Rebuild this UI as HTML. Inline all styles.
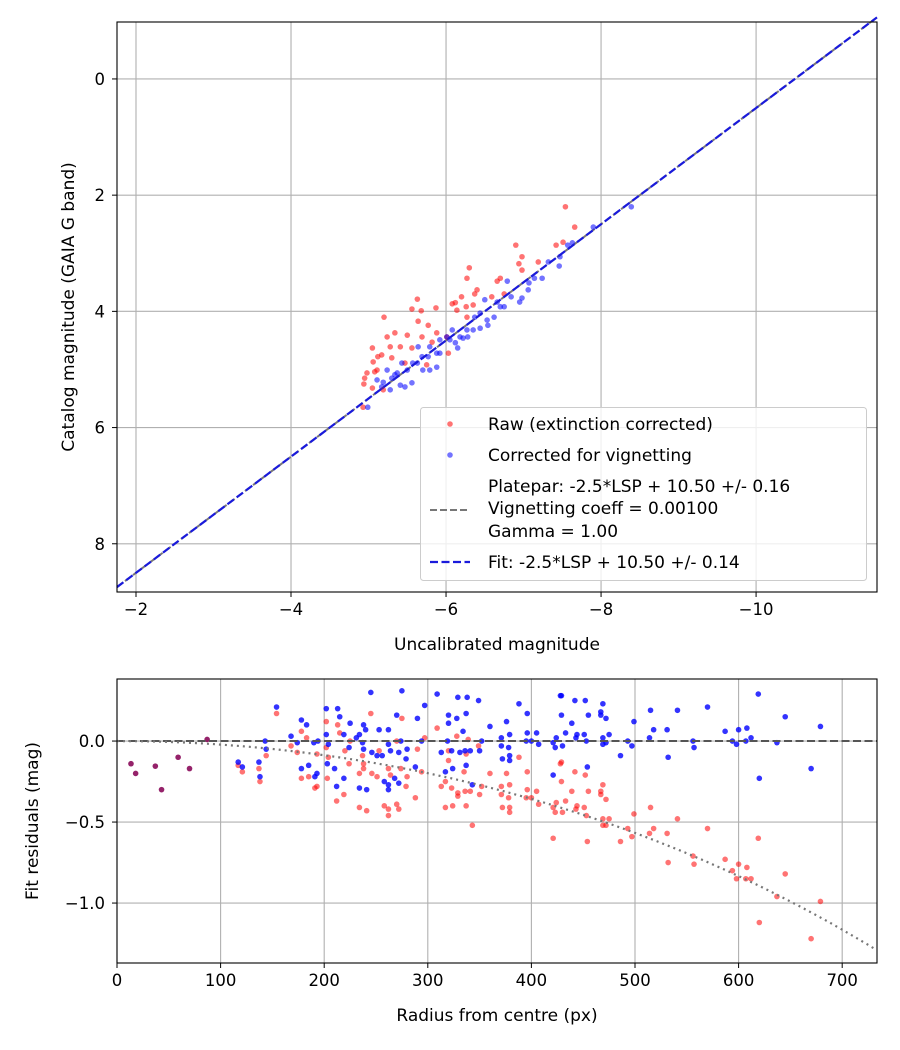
<!DOCTYPE html>
<html><head><meta charset="utf-8">
<style>
html,body{margin:0;padding:0;background:#fff;}
svg{display:block;font-family:"DejaVu Sans","Liberation Sans",sans-serif;}
</style></head>
<body>
<svg id="chart" width="900" height="1050" viewBox="0 0 900 1050" xmlns="http://www.w3.org/2000/svg">
<rect x="0" y="0" width="900" height="1050" fill="#fff"/>
<g id="topPanel"></g>
<g id="botPanel"></g>
</svg>
<script>
// ---- top panel data ----
const topXTicks = [-2, -4, -6, -8, -10];
const topYTicks = [0, 2, 4, 6, 8];
const rawM = [-7.54,-7.66,-7.51,-7.42,-6.9,-6.98,-6.94,-6.98,-7.19,-6.3,-6.27,-6.66,-6.7,-6.4,-6.37,-6.59,-6.75,-6.2,-6.08,-6.12,-6.35,-6.26,-5.63,-5.56,-5.68,-5.87,-5.2,-6.14,-6.27,-5.64,-5.77,-5.24,-5.34,-5.5,-5.69,-5.88,-5.05,-5.28,-5.41,-5.56,-5.82,-6.01,-5.12,-5.17,-5.3,-5.06,-4.98,-5.11,-4.95,-4.94,-5.05,-5.19,-4.93,-6.03,-5.75,-5.47,-5.08];
const rawCat = [2.2,2.55,2.81,2.86,2.86,3.06,3.18,3.29,3.15,3.25,3.43,3.48,3.43,3.63,3.7,3.75,3.7,3.75,3.87,3.85,3.89,3.92,3.79,3.96,3.99,3.94,4.1,3.98,4.1,4.17,4.24,4.44,4.37,4.41,4.44,4.37,4.63,4.61,4.61,4.63,4.53,4.44,4.78,4.75,4.8,4.87,5.06,5.01,5.15,5.25,5.32,5.35,5.65,4.72,4.92,4.89,5.04];
const corM = [-4.99,-7.9,-7.63,-7.57,-7.47,-7.46,-7.32,-7.24,-7.14,-7.07,-7.06,-6.98,-6.95,-6.84,-6.79,-6.75,-6.66,-6.62,-6.54,-6.5,-6.44,-6.35,-6.28,-6.22,-6.15,-6.08,-6.01,-5.92,-5.88,-5.79,-5.69,-5.64,-5.57,-5.5,-5.43,-5.37,-5.3,-5.24,-5.19,-5.28,-5.41,-5.56,-5.7,-5.79,-5.88,-6.05,-6.12,-6.37,-6.53,-6.7,-5.11,-5.17,-5.34,-5.47,-5.63,-5.77,-5.92,-6.18,-6.27,-6.44,-8.39];
const corCat = [5.65,2.55,2.82,2.86,3.06,3.22,3.15,3.43,3.43,3.51,3.63,3.77,3.84,3.75,3.48,3.92,3.84,4.1,4.24,3.8,4.29,4.32,4.44,4.46,4.63,4.32,4.44,4.49,4.72,4.61,4.78,4.61,4.89,5.01,4.89,5.06,5.15,5.01,5.22,5.35,5.27,5.23,5.01,5.01,4.96,4.49,4.54,4.1,4.15,3.92,5.18,5.3,5.09,5.3,4.89,4.78,4.72,4.44,4.32,4.03,2.2];
const fitSlope = 1.0, fitIntercept = 10.5;

// ---- bottom panel data ----
const botXTicks = [0,100,200,300,400,500,600,700];
const botYTicks = [0.0,-0.5,-1.0];
const purpleR = [13.5,18,37,43,59,70,87];
const purpleRes = [-0.14,-0.2,-0.155,-0.30,-0.10,-0.17,0.01];
const redR = [154,137,138,144,121,117,168,178,183,174,178,185,191,193,193,202,202,203,204,213,215,212,219,220,224,225,234,241,234,237,238,238,245,246,253,251,258,262,262,270,272,262,264,270,274,275,279,280,288,290,294,297,309,313,317,317,320,320,323,324,328,329,329,335,337,336,337,339,341,343,349,350,352,360,371,371,372,376,378,379,379,379,388,396,396,395,400,405,407,421,423,424,421,428,429,429,430,433,439,442,443,444,451,452,453,455,454,467,467,469,472,469,469,472,475,486,493,497,499,514,515,518,531,532,541,556,557,570,587,594,598,600,607,608,612,619,620,637,645,670,679];
const redRes = [0.17,-0.17,-0.25,-0.09,-0.19,-0.15,-0.03,0.06,0.02,-0.07,-0.23,-0.22,-0.29,-0.28,-0.08,0.12,-0.04,-0.23,-0.1,0.1,0.05,-0.37,-0.33,-0.06,-0.14,0.0,-0.41,-0.43,-0.2,-0.09,-0.14,-0.17,0.17,-0.2,-0.06,-0.22,-0.4,-0.42,-0.46,-0.39,-0.42,-0.17,-0.21,0.0,-0.17,0.14,-0.28,-0.22,-0.35,-0.05,-0.19,0.02,0.08,-0.28,-0.41,-0.25,-0.12,-0.06,-0.29,-0.4,0.03,-0.32,-0.34,-0.19,-0.08,-0.31,-0.4,0.01,-0.31,-0.52,-0.03,-0.33,-0.28,-0.2,-0.28,-0.33,-0.41,-0.2,-0.35,-0.27,-0.41,-0.44,-0.1,-0.19,-0.3,-0.35,-0.35,-0.31,-0.39,-0.41,-0.44,-0.38,-0.6,-0.14,-0.13,-0.25,-0.44,-0.37,-0.31,-0.19,-0.42,-0.4,-0.41,-0.21,-0.46,-0.31,-0.62,-0.31,-0.33,-0.27,-0.36,-0.48,-0.52,-0.52,-0.48,-0.62,-0.54,-0.59,-0.45,-0.57,-0.41,-0.54,-0.57,-0.75,-0.48,-0.71,-0.76,-0.54,-0.73,-0.8,-0.85,-0.76,-0.85,-0.78,-0.85,-0.6,-1.12,-0.96,-0.82,-1.22,-0.99];
const blueR = [117,121,137,138,143,144,154,168,178,183,174,178,185,191,193,190,194,202,215,213,202,204,203,210,212,219,219,225,224,231,234,238,240,237,238,245,246,253,251,256,262,262,264,270,272,274,275,258,262,262,234,241,268,272,279,280,288,290,294,297,309,320,320,319,313,323,317,324,328,329,337,338,334,331,336,341,337,343,349,350,352,360,371,371,372,376,378,379,379,379,388,396,396,395,400,405,407,421,423,424,421,428,429,429,430,433,439,442,443,444,451,452,453,455,454,467,467,469,472,469,469,472,475,486,493,497,499,514,515,518,531,532,541,556,557,570,587,594,598,600,607,608,612,619,620,637,645,670,679];
const blueRes = [-0.13,-0.16,-0.13,-0.22,0.0,-0.05,0.21,0.03,0.13,0.10,-0.01,-0.17,-0.15,-0.22,-0.2,-0.01,0.0,0.2,0.15,0.2,0.04,-0.02,-0.14,-0.17,-0.28,0.04,-0.23,0.11,-0.04,0.02,0.04,0.1,0.07,-0.01,-0.05,0.3,-0.07,0.07,-0.09,-0.09,0.07,-0.02,-0.06,0.16,-0.07,0.0,0.31,-0.25,-0.27,-0.3,-0.29,-0.3,-0.23,-0.26,-0.11,-0.05,-0.16,0.14,0.0,0.22,0.29,0.16,0.11,0.0,-0.07,-0.06,-0.19,-0.17,0.14,0.27,0.17,0.27,0.06,-0.07,-0.06,-0.06,-0.15,-0.27,0.25,-0.06,0.0,0.09,0.02,-0.03,-0.11,0.12,-0.04,0.04,-0.09,-0.12,0.23,0.17,0.05,0.0,0.0,0.05,-0.02,-0.01,-0.04,0.02,-0.21,0.28,0.28,0.16,-0.03,0.05,0.11,0.25,0.02,0.04,0.04,0.25,0.0,0.16,-0.16,0.18,0.16,0.23,0.14,0.02,-0.02,-0.01,0.04,-0.09,0.0,-0.03,0.12,0.02,0.19,0.07,0.07,-0.1,0.19,0.0,-0.04,0.21,0.06,0.0,-0.02,0.07,0.0,0.08,0.02,0.29,-0.23,-0.01,0.15,-0.17,0.09];
const vignCoeff = 0.001;

const NS = 'http://www.w3.org/2000/svg';
function mk(parent, tag, attrs, text){
  const e = document.createElementNS(NS, tag);
  for (const k in attrs) e.setAttribute(k, attrs[k]);
  if (text !== undefined) e.textContent = text;
  parent.appendChild(e);
  return e;
}
function fmtNeg(v, d){ const s = Math.abs(v).toFixed(d); return (v < 0 ? '\u2212' : '') + s; }

// ---------- TOP ----------
const T = {l:117, r:877, t:22, b:592};
const txMin = -1.755, txMax = -11.56, tyMin = -0.98, tyMax = 8.83;
const tx = v => T.l + (v - txMin) / (txMax - txMin) * (T.r - T.l);
const ty = v => T.t + (v - tyMin) / (tyMax - tyMin) * (T.b - T.t);
const topG = document.getElementById('topPanel');

topXTicks.forEach(v => {
  const g = mk(topG, 'line', {x1:tx(v), x2:tx(v), y1:T.t, y2:T.b, stroke:'#b0b0b0', 'stroke-width':1.1});
  
  
  const tk = mk(topG, 'line', {x1:tx(v), x2:tx(v), y1:T.b, y2:T.b+5, stroke:'#000', 'stroke-width':1});
  
  
  const t = mk(topG, 'text', {x:tx(v), y:T.b+23, 'text-anchor':'middle', 'font-size':16.5}, fmtNeg(v,0));
  
  
});
topYTicks.forEach(v => {
  const g = mk(topG, 'line', {x1:T.l, x2:T.r, y1:ty(v), y2:ty(v), stroke:'#b0b0b0', 'stroke-width':1.1});
  
  
  const tk = mk(topG, 'line', {x1:T.l-5, x2:T.l, y1:ty(v), y2:ty(v), stroke:'#000', 'stroke-width':1});
  
  
  const t = mk(topG, 'text', {x:T.l-12, y:ty(v)+6, 'text-anchor':'end', 'font-size':16.5}, String(v));
  
  
});
const fx1 = txMin, fx2 = txMax;
const pp = mk(topG, 'line', {x1:tx(fx1), y1:ty(fitSlope*fx1+fitIntercept), x2:tx(fx2), y2:ty(fitSlope*fx2+fitIntercept), stroke:'#777', 'stroke-width':2, 'stroke-dasharray':'7,3'});


rawM.forEach((m,i) => {
  const c = mk(topG, 'circle', {cx:tx(m), cy:ty(rawCat[i]), r:2.8, fill:'#ff0000', 'fill-opacity':0.55});
  
  
});
corM.forEach((m,i) => {
  const c = mk(topG, 'circle', {cx:tx(m), cy:ty(corCat[i]), r:2.8, fill:'#0000ff', 'fill-opacity':0.55});
  
  
});
const fl = mk(topG, 'line', {x1:tx(fx1), y1:ty(fitSlope*fx1+fitIntercept), x2:tx(fx2), y2:ty(fitSlope*fx2+fitIntercept), stroke:'#1a1adb', 'stroke-width':2.2, 'stroke-dasharray':'8,3.5'});


const tf = mk(topG, 'rect', {x:T.l, y:T.t, width:T.r-T.l, height:T.b-T.t, fill:'none', stroke:'#000', 'stroke-width':1.1});


const txl = mk(topG, 'text', {x:(T.l+T.r)/2, y:650, 'text-anchor':'middle', 'font-size':17}, 'Uncalibrated magnitude');


const tyl = mk(topG, 'text', {x:0, y:0, 'text-anchor':'middle', 'font-size':17, transform:'translate(74,307) rotate(-90)'}, 'Catalog magnitude (GAIA G band)');



const lg = mk(topG, 'g', {});


const lb = mk(lg, 'rect', {x:420.5, y:407.5, width:446, height:173, rx:3, fill:'#fff', 'fill-opacity':0.8, stroke:'#ccc', 'stroke-width':1});


const le1 = mk(lg, 'circle', {cx:450, cy:424, r:2.8, fill:'#ff0000', 'fill-opacity':0.55});


const lt1 = mk(lg, 'text', {x:488, y:430, 'font-size':17}, 'Raw (extinction corrected)');


const le2 = mk(lg, 'circle', {cx:450, cy:455, r:2.8, fill:'#0000ff', 'fill-opacity':0.55});


const lt2 = mk(lg, 'text', {x:488, y:461, 'font-size':17}, 'Corrected for vignetting');


const le3 = mk(lg, 'line', {x1:430, x2:470, y1:510, y2:510, stroke:'#777', 'stroke-width':2, 'stroke-dasharray':'7,3'});


const lt3 = mk(lg, 'text', {x:488, y:492, 'font-size':17}, 'Platepar: -2.5*LSP + 10.50 +/- 0.16');


const lt4 = mk(lg, 'text', {x:488, y:514, 'font-size':17}, 'Vignetting coeff = 0.00100');


const lt5 = mk(lg, 'text', {x:488, y:537, 'font-size':17}, 'Gamma = 1.00');


const le4 = mk(lg, 'line', {x1:430, x2:470, y1:562, y2:562, stroke:'#1a1adb', 'stroke-width':2.2, 'stroke-dasharray':'8,3.5'});


const lt6 = mk(lg, 'text', {x:488, y:568, 'font-size':17}, 'Fit: -2.5*LSP + 10.50 +/- 0.14');



// ---------- BOTTOM ----------
const B = {l:117, r:877, t:679, b:963};
const bxMin = 0, bxMax = 733.6, byMax = 0.383, byMin = -1.37;
const bx = v => B.l + (v - bxMin) / (bxMax - bxMin) * (B.r - B.l);
const by = v => B.t + (byMax - v) / (byMax - byMin) * (B.b - B.t);
const botG = document.getElementById('botPanel');
botXTicks.forEach(v => {
  const g = mk(botG, 'line', {x1:bx(v), x2:bx(v), y1:B.t, y2:B.b, stroke:'#b0b0b0', 'stroke-width':1.1});
  
  
  const tk = mk(botG, 'line', {x1:bx(v), x2:bx(v), y1:B.b, y2:B.b+5, stroke:'#000', 'stroke-width':1});
  
  
  const t = mk(botG, 'text', {x:bx(v), y:B.b+23, 'text-anchor':'middle', 'font-size':16.5}, String(v));
  
  
});
botYTicks.forEach(v => {
  const g = mk(botG, 'line', {x1:B.l, x2:B.r, y1:by(v), y2:by(v), stroke:'#b0b0b0', 'stroke-width':1.1});
  
  
  const tk = mk(botG, 'line', {x1:B.l-5, x2:B.l, y1:by(v), y2:by(v), stroke:'#000', 'stroke-width':1});
  
  
  const t = mk(botG, 'text', {x:B.l-12, y:by(v)+6, 'text-anchor':'end', 'font-size':16.5}, fmtNeg(v,1));
  
  
});
redR.forEach((r,i) => {
  const c = mk(botG, 'circle', {cx:bx(r), cy:by(redRes[i]), r:2.8, fill:'#ff0000', 'fill-opacity':0.55});
  
  
});
blueR.forEach((r,i) => {
  const c = mk(botG, 'circle', {cx:bx(r), cy:by(blueRes[i]), r:2.8, fill:'#0000ff', 'fill-opacity':0.8});
  
  
});
purpleR.forEach((r,i) => {
  const c = mk(botG, 'circle', {cx:bx(r), cy:by(purpleRes[i]), r:2.8, fill:'#8a0a5a', 'fill-opacity':0.9});
  
  
});
const zl = mk(botG, 'line', {x1:B.l, x2:B.r, y1:by(0), y2:by(0), stroke:'#555', 'stroke-width':2, 'stroke-dasharray':'8,3.5'});


let d = '';
for (let r = 0; r <= bxMax; r += 4) {
  const c = Math.cos(vignCoeff * r);
  const v = 2.5 * Math.log10(Math.pow(c, 4));
  d += (r === 0 ? 'M' : 'L') + bx(r).toFixed(1) + ',' + by(v).toFixed(1);
}
const vc = mk(botG, 'path', {d:d, fill:'none', stroke:'#777', 'stroke-width':2.2, 'stroke-dasharray':'2,4'});


const bf = mk(botG, 'rect', {x:B.l, y:B.t, width:B.r-B.l, height:B.b-B.t, fill:'none', stroke:'#000', 'stroke-width':1.1});


const bxl = mk(botG, 'text', {x:(B.l+B.r)/2, y:1021, 'text-anchor':'middle', 'font-size':17}, 'Radius from centre (px)');


const byl = mk(botG, 'text', {x:0, y:0, 'text-anchor':'middle', 'font-size':17, transform:'translate(38,821) rotate(-90)'}, 'Fit residuals (mag)');


</script>
</body></html>
